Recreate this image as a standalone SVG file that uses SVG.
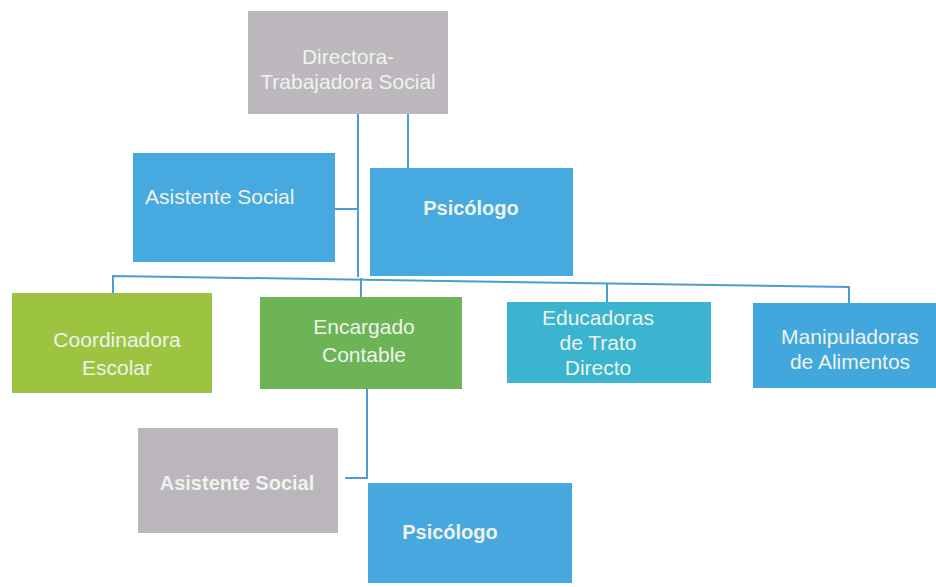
<svg xmlns="http://www.w3.org/2000/svg" width="936" height="587" viewBox="0 0 936 587">
<style>
.t{font-family:"Liberation Sans",Arial,sans-serif;font-size:21px;fill:#eef3ec;text-anchor:middle}
.b{font-weight:bold;font-size:20px}
.c{stroke:#4b9fd0;stroke-width:2;fill:none}
</style>
<rect width="936" height="587" fill="#ffffff"/>
<g id="connectors">
<path class="c" d="M358 113V277"/>
<path class="c" d="M408 100V168"/>
<path class="c" d="M335 209H358"/>
<path class="c" d="M113 293V276L849 287V303"/>
<path class="c" d="M361 278V297"/>
<path class="c" d="M607 283V302"/>
<path class="c" d="M367 389V478H345"/>
</g>
<g id="directora">
<rect x="248" y="11" width="200" height="103" fill="#bcb8be"/>
<text class="t" x="348" y="64">Directora-</text>
<text class="t" x="348" y="89">Trabajadora Social</text>
</g>
<g id="asistente-social-1">
<rect x="133" y="153" width="202" height="109" fill="#46a9df"/>
<text class="t" x="145" y="204" style="text-anchor:start">Asistente Social</text>
</g>
<g id="psicologo-1">
<rect x="370" y="168" width="203" height="108" fill="#46a9df"/>
<text class="t b" x="471" y="215">Psicólogo</text>
</g>
<g id="coordinadora">
<rect x="12" y="293" width="200" height="100" fill="#9dc440"/>
<text class="t" x="117" y="347">Coordinadora</text>
<text class="t" x="117" y="375">Escolar</text>
</g>
<g id="encargado">
<rect x="260" y="297" width="202" height="92" fill="#6db457"/>
<text class="t" x="364" y="334">Encargado</text>
<text class="t" x="364" y="362">Contable</text>
</g>
<g id="educadoras">
<rect x="507" y="302" width="204" height="81" fill="#3ab4cf"/>
<text class="t" x="598" y="325">Educadoras</text>
<text class="t" x="598" y="350">de Trato</text>
<text class="t" x="598" y="375">Directo</text>
</g>
<g id="manipuladoras">
<rect x="753" y="303" width="183" height="85" fill="#41a7dd"/>
<text class="t" x="850" y="344">Manipuladoras</text>
<text class="t" x="850" y="369">de Alimentos</text>
</g>
<g id="asistente-social-2">
<rect x="138" y="428" width="200" height="105" fill="#bbb6bd"/>
<text class="t b" x="237" y="490">Asistente Social</text>
</g>
<g id="psicologo-2">
<rect x="368" y="483" width="204" height="100" fill="#46a8de"/>
<text class="t b" x="450" y="539">Psicólogo</text>
</g>
</svg>
